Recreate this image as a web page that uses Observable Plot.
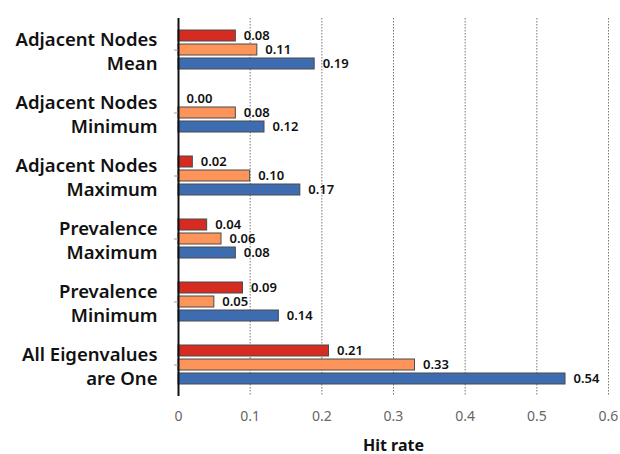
<!DOCTYPE html>
<html>
<head>
<meta charset="utf-8">
<script src="https://cdn.jsdelivr.net/npm/d3@7"></script>
<script src="https://cdn.jsdelivr.net/npm/@observablehq/plot@0.6"></script>
<style>
  html, body { margin: 0; padding: 0; background: #fff; }
  #chart svg { display: block; }
</style>
</head>
<body>
<div id="chart"></div>
<script>
// Heuristic categories (top to bottom) and their hit rates for three runs
const categories = [
  "Adjacent Nodes\nMean",
  "Adjacent Nodes\nMinimum",
  "Adjacent Nodes\nMaximum",
  "Prevalence\nMaximum",
  "Prevalence\nMinimum",
  "All Eigenvalues\nare One"
];
const seriesNames = ["run1", "run2", "run3"];
const run1Values = [0.08, 0.00, 0.02, 0.04, 0.09, 0.21];
const run2Values = [0.11, 0.08, 0.10, 0.06, 0.05, 0.33];
const run3Values = [0.19, 0.12, 0.17, 0.08, 0.14, 0.54];
const seriesColors = ["#d52b20", "#fd955a", "#3e6cb1"];
const xTicks = [0, 0.1, 0.2, 0.3, 0.4, 0.5, 0.6];

const valuesBySeries = [run1Values, run2Values, run3Values];
const rows = [];
categories.forEach((cat, i) => {
  seriesNames.forEach((s, j) => {
    rows.push({cat, series: s, value: valuesBySeries[j][i]});
  });
});

const chart = Plot.plot({
  width: 620,
  height: 454,
  marginLeft: 178,
  marginRight: 12,
  marginTop: 16,
  marginBottom: 57,
  style: {fontFamily: "'Noto Sans', 'Open Sans', sans-serif", background: "#fff"},
  x: {domain: [0, 0.6], axis: null},
  y: {domain: seriesNames, paddingInner: 0.23, paddingOuter: 0.835, axis: null},
  fy: {domain: categories, padding: 0, axis: null},
  color: {domain: seriesNames, range: seriesColors},
  marks: [
    Plot.gridX(xTicks.slice(1), {stroke: "#777", strokeOpacity: 1, strokeDasharray: "1.5,1.5"}),
    Plot.barX(rows, {
      x: "value", y: "series", fy: "cat",
      fill: "series", stroke: "#4a4a4a", strokeWidth: 1
    }),
    Plot.text(rows, {
      x: "value", y: "series", fy: "cat",
      text: d => d.value.toFixed(2),
      dx: 8, textAnchor: "start",
      fontSize: 13, fontWeight: 600, fill: "#111"
    }),
    Plot.ruleX([0], {stroke: "#111", strokeWidth: 2}),
    Plot.axisFy({
      anchor: "left", label: null,
      tickSize: 4, tickPadding: 17,
      stroke: "#999",
      fill: "#111", fontSize: 18.5, fontWeight: 600, lineHeight: 1.3
    }),
    Plot.axisX(xTicks, {
      anchor: "bottom",
      tickSize: 0, tickPadding: 15,
      tickFormat: d => String(+d.toFixed(1)),
      fill: "#666", fontSize: 14,
      label: "Hit rate", labelAnchor: "center", labelArrow: false
    })
  ]
});

// Style the axis title separately from its tick labels
document.getElementById("chart").append(chart);
chart.querySelectorAll("text").forEach(t => {
  if (t.textContent.trim() === "Hit rate") {
    t.setAttribute("font-weight", "bold");
    t.setAttribute("font-size", "16");
    t.setAttribute("fill", "#111");
  }
});
</script>
</body>
</html>
